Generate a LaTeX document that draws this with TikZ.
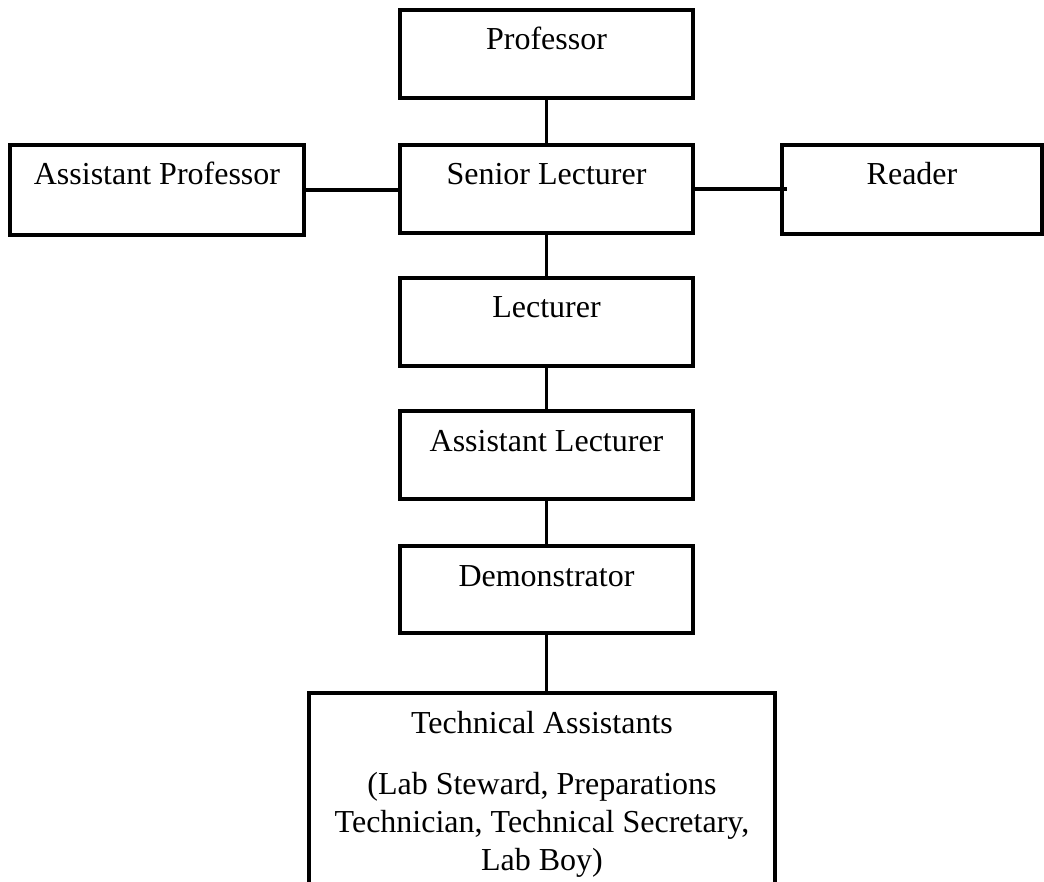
\documentclass[tikz,border=0pt]{standalone}
\usepackage{fontspec}
\setmainfont{Liberation Serif}
\begin{document}
\begin{tikzpicture}[x=1pt,y=-1pt,
  box/.style={draw, line width=3.3pt, inner xsep=0pt, inner ysep=0pt, outer sep=0pt,
    text height=40pt, text depth=48pt, minimum width=293pt, anchor=north west,
    font=\fontsize{32}{38}\selectfont},
  link/.style={line width=3.3pt}]
\useasboundingbox (0,0) rectangle (1044,882);
\clip (0,0) rectangle (1044,882);
\node[box] (prof) at (400,10) {Professor};
\node[box] (sl) at (400,145) {Senior Lecturer};
\node[box, minimum width=294pt, text depth=50pt] (ap) at (10,145) {Assistant Professor};
\node[box, minimum width=260pt, text depth=49pt] (rd) at (782,145) {Reader};
\node[box] (lec) at (400,278) {Lecturer};
\node[box] (al) at (400,411) {Assistant Lecturer};
\node[box, text depth=47pt] (dem) at (400,546) {Demonstrator};
\node[box, minimum width=466pt, text depth=250pt] (tech) at (309,693)
  {\begin{tabular}[t]{@{}c@{}}Technical Assistants\\[23pt](Lab Steward, Preparations\\Technician, Technical Secretary,\\Lab Boy)\end{tabular}};
\draw[link] (prof.south) -- (sl.north);
\draw[link] (ap.east) -- (ap.east -| sl.west);
\draw[link] (sl.east) -- ([xshift=5pt]sl.east -| rd.west);
\draw[link] (sl.south) -- (lec.north);
\draw[link] (lec.south) -- (al.north);
\draw[link] (al.south) -- (dem.north);
\draw[link] (dem.south) -- ([yshift=-2pt]dem.south |- tech.north);
\end{tikzpicture}
\end{document}
